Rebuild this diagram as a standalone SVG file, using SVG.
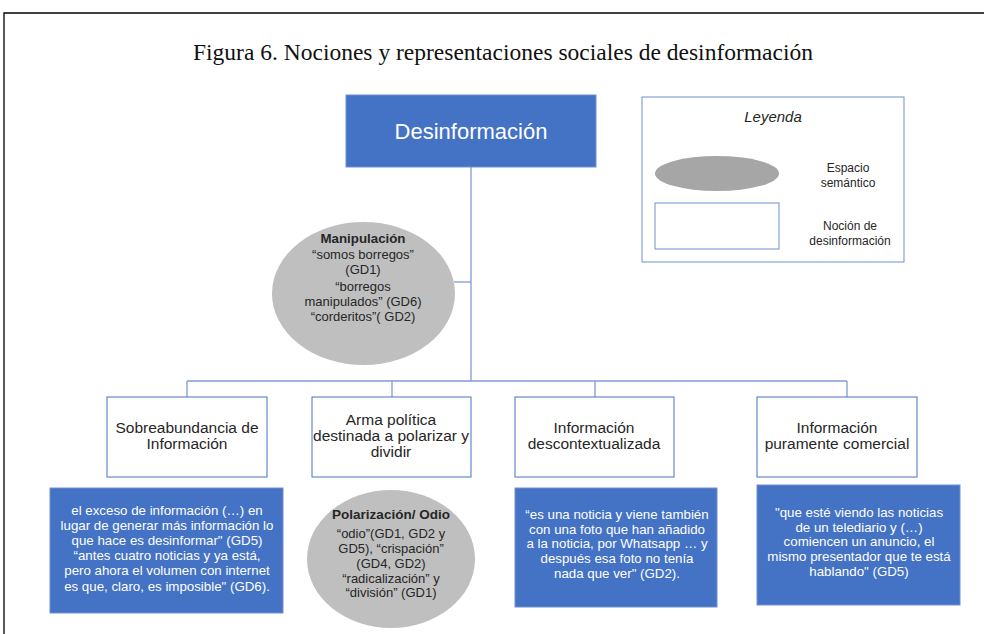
<svg xmlns="http://www.w3.org/2000/svg" width="984" height="634" viewBox="0 0 984 634">
<style>
.t{font-family:"Liberation Sans",Arial,sans-serif;fill:#262626;text-anchor:middle}
.w{font-family:"Liberation Sans",Arial,sans-serif;fill:#ffffff;text-anchor:middle;font-size:13.3px}
.l{font-size:15.5px}
.s{font-size:13px}
.n{fill:#ffffff;stroke:#4472C4;stroke-width:1}
.b{fill:#4472C4;stroke:#6F8FD0;stroke-width:1}
.e{fill:#BFBFBF;stroke:none}
.c{fill:none;stroke:#7F9BD3;stroke-width:1.3}
</style>
<rect width="984" height="634" fill="#ffffff"/>
<polyline points="4,634 4,13 984,13" fill="none" stroke="#000000" stroke-width="1.3"/>
<text x="503" y="60" font-family="'Liberation Serif',serif" font-size="23.5" text-anchor="middle" fill="#111">Figura 6. Nociones y representaciones sociales de desinformación</text>

<g id="connectors">
<line class="c" x1="471" y1="167" x2="471" y2="381"/>
<line class="c" x1="454" y1="282" x2="471" y2="282"/>
<line class="c" x1="187" y1="381" x2="847" y2="381"/>
<line class="c" x1="187" y1="381" x2="187" y2="397"/>
<line class="c" x1="392" y1="381" x2="392" y2="397"/>
<line class="c" x1="595" y1="381" x2="595" y2="397"/>
<line class="c" x1="847" y1="381" x2="847" y2="397"/>
</g>

<g id="desinformacion">
<rect class="b" x="346" y="95" width="250" height="72"/>
<text x="471" y="139" font-family="'Liberation Sans',Arial,sans-serif" font-size="22" fill="#ffffff" text-anchor="middle">Desinformación</text>
</g>

<g id="leyenda">
<rect x="642" y="97" width="262" height="165" fill="#ffffff" stroke="#6F8FD0" stroke-width="1"/>
<text class="t" x="773" y="122" font-size="15" font-style="italic">Leyenda</text>
<ellipse cx="717" cy="173.5" rx="62" ry="17.5" fill="#A6A6A6"/>
<text class="t" x="848" y="172" font-size="12">Espacio</text>
<text class="t" x="848" y="187" font-size="12">semántico</text>
<rect x="655" y="203" width="124" height="46" fill="#ffffff" stroke="#6F8FD0" stroke-width="1"/>
<text class="t" x="850" y="230" font-size="12">Noción de</text>
<text class="t" x="850" y="245" font-size="12">desinformación</text>
</g>

<g id="manipulacion">
<ellipse class="e" cx="363.5" cy="293.5" rx="91.5" ry="71.5"/>
<text class="t" x="363" y="243" font-size="13.3" font-weight="bold" fill="#000">Manipulación</text>
<text class="t s" x="363" y="259">“somos borregos”</text>
<text class="t s" x="363" y="274">(GD1)</text>
<text class="t s" x="363" y="291">“borregos</text>
<text class="t s" x="363" y="306">manipulados” (GD6)</text>
<text class="t s" x="363" y="321">“corderitos”( GD2)</text>
</g>

<g id="sobreabundancia">
<rect class="n" x="107" y="397" width="160" height="80"/>
<text class="t l" x="187" y="433">Sobreabundancia de</text>
<text class="t l" x="187" y="449">Información</text>
</g>
<g id="cita-sobreabundancia">
<rect class="b" x="50" y="488" width="233" height="125"/>
<text class="w" x="167" y="515">el exceso de información (…) en</text>
<text class="w" x="167" y="530">lugar de generar más información lo</text>
<text class="w" x="167" y="545">que hace es desinformar" (GD5)</text>
<text class="w" x="167" y="560">“antes cuatro noticias y ya está,</text>
<text class="w" x="167" y="575">pero ahora el volumen con internet</text>
<text class="w" x="167" y="591">es que, claro, es imposible" (GD6).</text>
</g>

<g id="arma-politica">
<rect class="n" x="312" y="397" width="159" height="80"/>
<text class="t l" x="391" y="425">Arma política</text>
<text class="t l" x="391" y="441">destinada a polarizar y</text>
<text class="t l" x="391" y="457">dividir</text>
</g>
<g id="polarizacion">
<ellipse class="e" cx="391" cy="559" rx="84" ry="69"/>
<text class="t" x="391" y="519" font-size="13.5" font-weight="bold" fill="#000">Polarización/ Odio</text>
<text class="t s" x="391" y="538">“odio”(GD1, GD2 y</text>
<text class="t s" x="391" y="553">GD5), “crispación”</text>
<text class="t s" x="391" y="568">(GD4, GD2)</text>
<text class="t s" x="391" y="583">“radicalización” y</text>
<text class="t s" x="391" y="597">“división” (GD1)</text>
</g>

<g id="descontextualizada">
<rect class="n" x="515" y="397" width="159" height="80"/>
<text class="t l" x="594" y="433">Información</text>
<text class="t l" x="594" y="449">descontextualizada</text>
</g>
<g id="cita-descontextualizada">
<rect class="b" x="515" y="488" width="202" height="119"/>
<text class="w" x="617" y="519">“es una noticia y viene también</text>
<text class="w" x="617" y="534">con una foto que han añadido</text>
<text class="w" x="617" y="548">a la noticia, por Whatsapp … y</text>
<text class="w" x="617" y="563">después esa foto no tenía</text>
<text class="w" x="617" y="578">nada que ver" (GD2).</text>
</g>

<g id="comercial">
<rect class="n" x="757" y="397" width="160" height="80"/>
<text class="t l" x="837" y="433">Información</text>
<text class="t l" x="837" y="449">puramente comercial</text>
</g>
<g id="cita-comercial">
<rect class="b" x="757" y="485" width="203" height="120"/>
<text class="w" x="859" y="517">"que esté viendo las noticias</text>
<text class="w" x="859" y="532">de un telediario y (…)</text>
<text class="w" x="859" y="546">comiencen un anuncio, el</text>
<text class="w" x="859" y="561">mismo presentador que te está</text>
<text class="w" x="859" y="576">hablando" (GD5)</text>
</g>
</svg>
